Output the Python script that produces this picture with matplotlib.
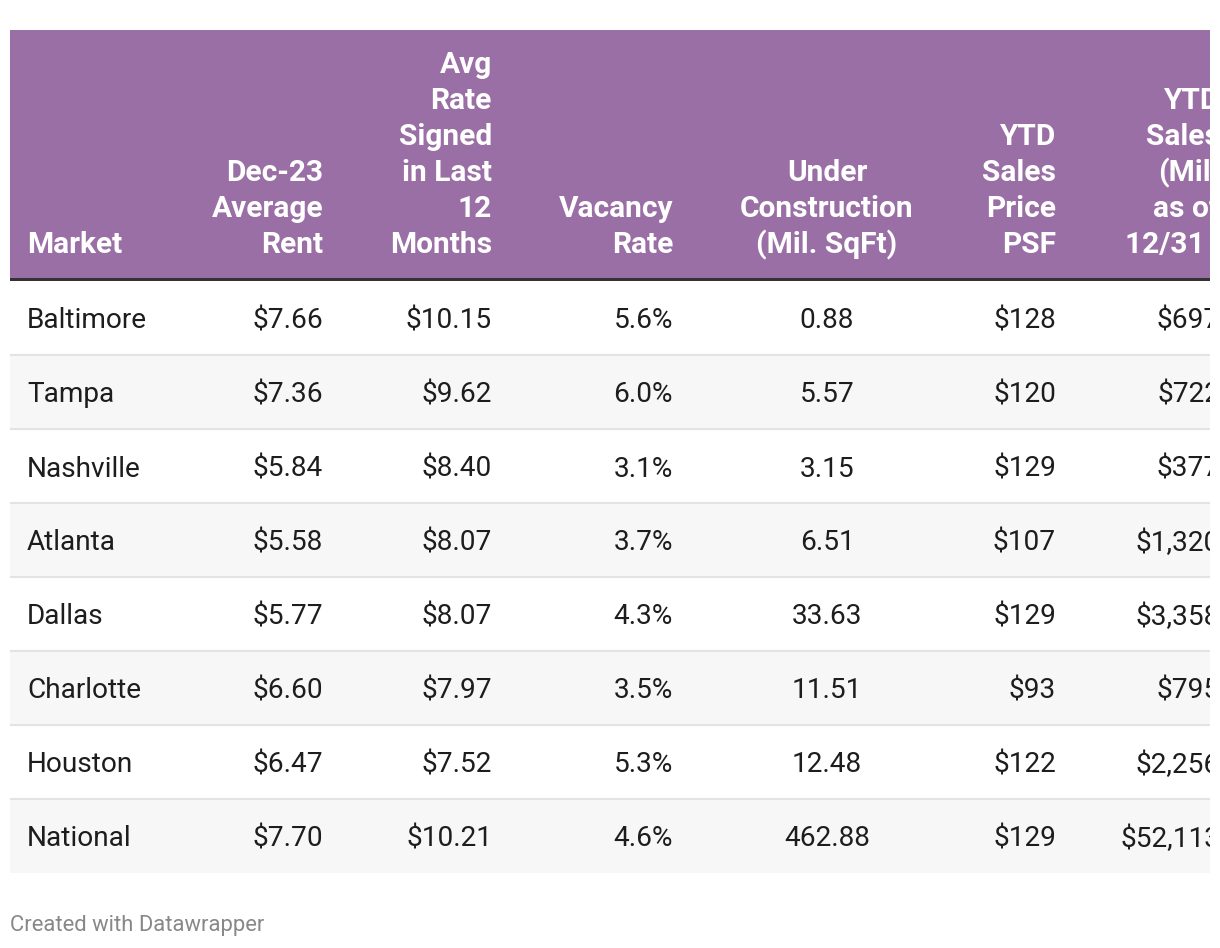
import matplotlib.pyplot as plt
from matplotlib.patches import Rectangle

plt.rcParams['font.family'] = ['Roboto', 'DejaVu Sans']

markets = ['Baltimore', 'Tampa', 'Nashville', 'Atlanta', 'Dallas', 'Charlotte', 'Houston', 'National']
dec23_rent = ['$7.66', '$7.36', '$5.84', '$5.58', '$5.77', '$6.60', '$6.47', '$7.70']
avg_rate_12m = ['$10.15', '$9.62', '$8.40', '$8.07', '$8.07', '$7.97', '$7.52', '$10.21']
vacancy = ['5.6%', '6.0%', '3.1%', '3.7%', '4.3%', '3.5%', '5.3%', '4.6%']
under_construction = ['0.88', '5.57', '3.15', '6.51', '33.63', '11.51', '12.48', '462.88']
ytd_price_psf = ['$128', '$120', '$129', '$107', '$129', '$93', '$122', '$129']
ytd_sales = ['$697', '$722', '$377', '$1,320', '$3,358', '$795', '$2,256', '$52,113']

headers = [
    ['Market'],
    ['Dec-23', 'Average', 'Rent'],
    ['Avg', 'Rate', 'Signed', 'in Last', '12', 'Months'],
    ['Vacancy', 'Rate'],
    ['Under', 'Construction', '(Mil. SqFt)'],
    ['YTD', 'Sales', 'Price', 'PSF'],
    ['YTD', 'Sales', '(Mil.', 'as of', '12/31  '],
]
columns = [markets, dec23_rent, avg_rate_12m, vacancy, under_construction, ytd_price_psf, ytd_sales]

# column anchor x (pixels) and alignment
col_x = [27, 323, 492, 673, 827, 1056, 1220]
col_ha = ['left', 'right', 'right', 'right', 'center', 'right', 'right']

W, H = 1220, 948
fig = plt.figure(figsize=(W / 100, H / 100), dpi=100)
ax = fig.add_axes([10 / W, 0, 1200 / W, 1])
ax.set_xlim(10, 1210)
ax.set_ylim(H, 0)
ax.axis('off')

purple = '#9a6fa5'
head_top, head_bot = 30, 278
row_h = 74
ax.add_patch(Rectangle((10, head_top), 1200, head_bot - head_top, color=purple, lw=0))
ax.add_patch(Rectangle((10, head_bot), 1200, 3, color='#333333', lw=0))

# header text, bottom-aligned lines
line_sp = 36
last_line_y = 245
for lines, x, ha in zip(headers, col_x, col_ha):
    n = len(lines)
    for i, t in enumerate(lines):
        y = last_line_y - (n - 1 - i) * line_sp
        ax.text(x, y, t, ha=ha, va='center', color='white', fontsize=21.5,
                fontweight='bold', clip_on=True)

top = head_bot + 3
for r in range(len(markets)):
    y0 = top + r * row_h
    if r % 2 == 1:
        ax.add_patch(Rectangle((10, y0), 1200, row_h, color='#f7f7f7', lw=0))
    if r > 0:
        ax.plot([10, 1210], [y0, y0], color='#e3e3e3', lw=1.5)
    yc = y0 + row_h / 2 + 3
    for col, x, ha in zip(columns, col_x, col_ha):
        ax.text(x, yc, col[r], ha=ha, va='center', color='#1d1d1d',
                fontsize=20.2, clip_on=True)

fig.text(10 / W, 1 - 925 / H, 'Created with Datawrapper', ha='left', va='center',
         color='#888888', fontsize=15.8)

fig.savefig('out.png', dpi=100, facecolor='white')
